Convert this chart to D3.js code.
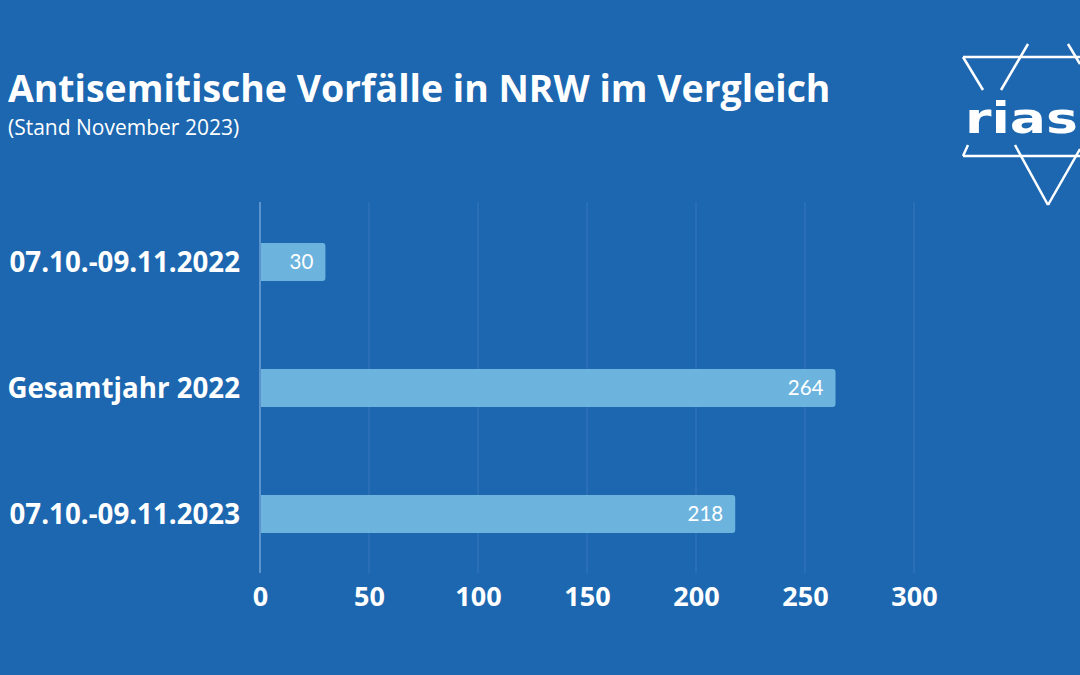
<!DOCTYPE html>
<html><head><meta charset="utf-8">
<script src="https://cdn.jsdelivr.net/npm/d3@7"></script>
<style>html,body{margin:0;padding:0;background:#1c67b0;}svg{display:block;}</style>
</head><body>
<script>
const categories = ["07.10.-09.11.2022", "Gesamtjahr 2022", "07.10.-09.11.2023"];
const values = [30, 264, 218];
const ticks = [0, 50, 100, 150, 200, 250, 300];
const title = "Antisemitische Vorfälle in NRW im Vergleich";
const subtitle = "(Stand November 2023)";

const W = 1080, H = 675;
const svg = d3.select("body").append("svg").attr("width", W).attr("height", H);
svg.append("rect").attr("width", W).attr("height", H).attr("fill", "#1c67b0");

const x = d3.scaleLinear().domain([0, 300]).range([260, 914]);
const y = d3.scaleBand().domain(categories).range([199, 577]).paddingInner(0.7).paddingOuter(0.35);

// gridlines
svg.append("g").selectAll("line").data(ticks).join("line")
  .attr("x1", d => x(d)).attr("x2", d => x(d))
  .attr("y1", 202).attr("y2", 573)
  .attr("stroke", d => d === 0 ? "#5b93cc" : "#3476bb").attr("stroke-width", d => d === 0 ? 2 : 1.2);

// bars with rounded right corners
const r = 3;
svg.append("g").selectAll("path").data(values).join("path")
  .attr("fill", "#6cb4de")
  .attr("d", (d, i) => {
    const x0 = x(0) + 1, x1 = x(d), y0 = y(categories[i]), h = y.bandwidth();
    return `M${x0},${y0}H${x1 - r}Q${x1},${y0} ${x1},${y0 + r}V${y0 + h - r}Q${x1},${y0 + h} ${x1 - r},${y0 + h}H${x0}Z`;
  });

// value labels
svg.append("g").selectAll("text").data(values).join("text")
  .attr("x", d => x(d) - 12)
  .attr("y", (d, i) => y(categories[i]) + y.bandwidth() / 2 + 7)
  .attr("text-anchor", "end").attr("fill", "#ffffff")
  .attr("font-family", "Lato, 'Open Sans', sans-serif").attr("font-size", 20.5)
  .text(d => d);

// category labels
svg.append("g").selectAll("text").data(categories).join("text")
  .attr("x", 240).attr("y", d => y(d) + y.bandwidth() / 2 + 10)
  .attr("text-anchor", "end").attr("fill", "#ffffff")
  .attr("font-family", "'Open Sans', sans-serif").attr("font-weight", 700).attr("font-size", 27.7)
  .text(d => d);

// x axis tick labels
const axis = svg.append("g").attr("transform", "translate(0,587)")
  .call(d3.axisBottom(x).tickValues(ticks).tickSize(0).tickPadding(0));
axis.select(".domain").remove();
axis.selectAll("text").attr("fill", "#ffffff").attr("dy", "0.71em")
  .attr("font-family", "'Open Sans', sans-serif").attr("font-weight", 700).attr("font-size", 27);

// title
svg.append("text").attr("x", 8).attr("y", 102).attr("fill", "#ffffff")
  .attr("font-family", "'Open Sans', sans-serif").attr("font-weight", 700).attr("font-size", 37.4)
  .text(title);
svg.append("text").attr("x", 8).attr("y", 135).attr("fill", "#ffffff")
  .attr("font-family", "'Open Sans', sans-serif").attr("font-size", 21)
  .text(subtitle);

// logo
const logo = svg.append("g").attr("stroke", "#ffffff").attr("stroke-width", 2.5).attr("fill", "none");
const segs = [
  [963,57,1080,57],[963,156,1080,156],
  [963,57,983,90],[1015,145,1048,205],[1048,205,1080,149],
  [1028,44,1001,90],[968,145,963,156],[1068,44,1080,64]
];
logo.selectAll("line").data(segs).join("line")
  .attr("x1", d => d[0]).attr("y1", d => d[1]).attr("x2", d => d[2]).attr("y2", d => d[3]);
svg.append("text").attr("x", 965).attr("y", 133).attr("fill", "#ffffff")
  .attr("font-family", "'DejaVu Sans', sans-serif").attr("font-weight", 700).attr("font-size", 43)
  .attr("textLength", 113).attr("lengthAdjust", "spacingAndGlyphs")
  .text("rias");
</script>
</body></html>
